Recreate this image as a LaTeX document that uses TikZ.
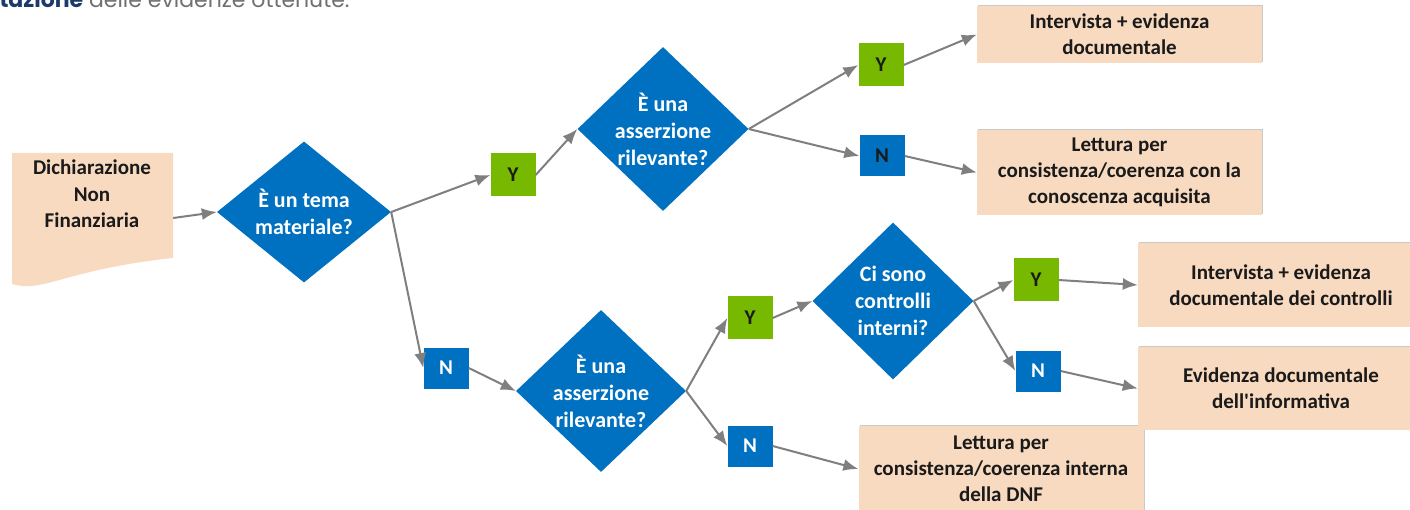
\documentclass[tikz,border=0pt]{standalone}
\usepackage{fontspec}
\setmainfont{Carlito}
\newfontfamily\pagefont{Poppins}
\usetikzlibrary{shapes.geometric}
\usetikzlibrary{arrows.meta}
\usetikzlibrary{positioning}
\usetikzlibrary{shadows}

\definecolor{qblue}{HTML}{0070C0}
\definecolor{ygreen}{HTML}{76B900}
\definecolor{peach}{HTML}{F8DAC0}
\definecolor{arrowgray}{HTML}{7F7F7F}
\definecolor{navy}{HTML}{1C3A6A}
\definecolor{pagegray}{HTML}{707070}
\definecolor{ink}{HTML}{1A1A1A}

\begin{document}
\begin{tikzpicture}[x=1pt,y=-1pt,
    question/.style={diamond,fill=qblue,inner sep=0pt},
    qtext/.style={text=white,font=\bfseries\fontsize{22}{27}\selectfont,align=center},
    yesbox/.style={rectangle,fill=ygreen,text=ink,minimum width=45pt,minimum height=43pt,font=\bfseries\fontsize{21}{25}\selectfont},
    nobox/.style={rectangle,fill=qblue,text=white,minimum width=45pt,minimum height=41pt,font=\bfseries\fontsize{21}{25}\selectfont},
    outcome/.style={rectangle,fill=peach,text=ink,minimum width=285pt,align=center,
      font=\bfseries\fontsize{21}{26}\selectfont,
      drop shadow={shadow xshift=1.2pt,shadow yshift=1.2pt,fill=black!35,opacity=.6}},
    flow/.style={-{Latex[length=15pt,width=12pt]},draw=arrowgray,line width=2pt}]
  \useasboundingbox (0,0) rectangle (1410,510);
  \clip (0,0) rectangle (1410,510);

  \node[anchor=base west,font=\pagefont\fontsize{22}{26}\selectfont] (intro) at (-4,8)
    {{\color{navy}\bfseries tazione} {\color{pagegray}delle evidenze ottenute.}};

  % documento di partenza
  \fill[peach] (12,153) -- (173,153) -- (173,258)
    .. controls (135,262) and (105,268) .. (78,275)
    .. controls (50,282) and (32,290) .. (12,284) -- cycle;
  \node[minimum width=161pt,minimum height=130pt,inner sep=0pt] (doc) at (92.5,218) {};
  \node[text=ink,align=center,font=\bfseries\fontsize{21}{26.5}\selectfont] (doclbl) at (92,194)
    {Dichiarazione\\Non\\Finanziaria};

  % domande
  \node[question,minimum width=174pt,minimum height=141pt,
    label={[qtext]center:{È un tema\\materiale?}}] (d1) at (304,212) {};
  \node[question,minimum width=171pt,minimum height=164pt,
    label={[qtext]center:{È una\\asserzione\\rilevante?}}] (d2) at (663,129) {};
  \node[question,minimum width=170pt,minimum height=162pt,
    label={[qtext]center:{È una\\asserzione\\rilevante?}}] (d3) at (601,391) {};
  \node[question,minimum width=161pt,minimum height=157pt,
    label={[qtext]center:{Ci sono\\controlli\\interni?}}] (d4) at (893,301) {};

  % risposte
  \node[yesbox] (y1) at (513,175) {Y};
  \node[nobox] (n1) at (446,368) {N};
  \node[yesbox] (y2) at (881,65) {Y};
  \node[nobox,text=ink] (n2) at (882,156) {N};
  \node[yesbox] (y3) at (750,318) {Y};
  \node[nobox] (n3) at (750,446) {N};
  \node[yesbox] (y4) at (1036,280) {Y};
  \node[nobox] (n4) at (1038,371) {N};

  % esiti
  \node[outcome,minimum height=57pt] (r1) at (1119.5,34.5) {Intervista + evidenza\\documentale};
  \node[outcome,minimum height=85pt] (r2) at (1119.5,172.5)
    {Lettura per\\consistenza/coerenza con la\\conoscenza acquisita};
  \node[outcome,minimum height=86pt] (r5) at (1001,469)
    {Lettura per\\consistenza/coerenza interna\\della DNF};
  \node[outcome,minimum height=84pt,minimum width=286pt] (r3) at (1281,285)
    {Intervista + evidenza\\documentale dei controlli};
  \node[outcome,minimum height=83pt,minimum width=286pt] (r4) at (1281,388.5)
    {Evidenza documentale\\dell\textquotesingle informativa};

  \path (doc.east) edge[flow] (d1.west);
  \path (d1.east) edge[flow] (y1.west);
  \path (d1.east) edge[flow] (n1.west);
  \path (y1.east) edge[flow] (d2.west);
  \path (d2.east) edge[flow] (y2.west);
  \path (d2.east) edge[flow] (n2.west);
  \path (y2.east) edge[flow] (r1.west);
  \path (n2.east) edge[flow] (r2.west);
  \path (n1.east) edge[flow] (d3.west);
  \path (d3.east) edge[flow] (y3.west);
  \path (d3.east) edge[flow] (n3.west);
  \path (y3.east) edge[flow] (d4.west);
  \path (d4.east) edge[flow] (y4.west);
  \path (d4.east) edge[flow] (n4.west);
  \path (y4.east) edge[flow] (r3.west);
  \path (n4.east) edge[flow] (r4.west);
  \path (n3.east) edge[flow] (r5.west);
\end{tikzpicture}
\end{document}
